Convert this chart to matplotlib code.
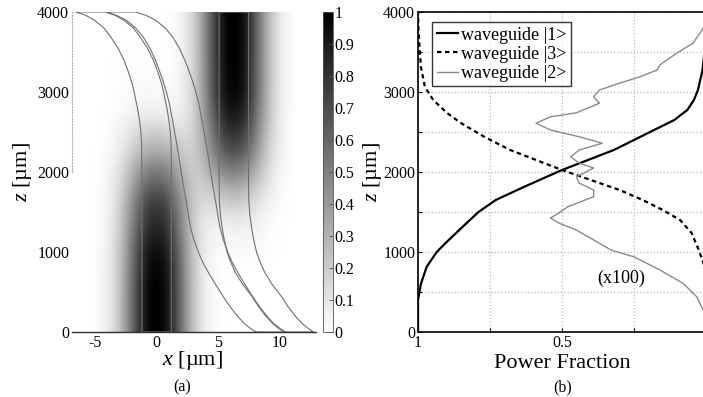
import matplotlib
matplotlib.use("Agg")
import matplotlib.pyplot as plt
import numpy as np

plt.rcParams['font.family'] = ['Liberation Serif', 'DejaVu Serif']
plt.rcParams['mathtext.fontset'] = 'custom'
plt.rcParams['mathtext.rm'] = 'Liberation Serif'
plt.rcParams['mathtext.it'] = 'Liberation Serif:italic'
plt.rcParams['axes.unicode_minus'] = False

# ---------------------------------------------------------------------------
# Data

# panel (b): power fraction in each waveguide versus z [um]
z_p1 = [0, 400, 600, 815, 1000, 1110, 1315, 1500, 1650, 1817, 2025, 2150, 2275, 2490,
        2650, 2775, 2900, 3025, 3275, 3525, 3800, 4000]
p1 = [1.0, 1.0, 0.99, 0.97, 0.935, 0.905, 0.845, 0.79, 0.73, 0.63, 0.50, 0.41, 0.32,
      0.20, 0.11, 0.065, 0.042, 0.028, 0.012, 0.005, 0.001, 0.0]

z_p3 = [0, 300, 810, 1025, 1237, 1400, 1525, 1650, 1775, 1900, 2025, 2150, 2275,
        2440, 2610, 2740, 2900, 3065, 3315, 3735, 4000]
p3 = [0.0, 0.0, 0.004, 0.025, 0.05, 0.09, 0.15, 0.22, 0.30, 0.40, 0.50, 0.59, 0.68,
      0.77, 0.85, 0.90, 0.947, 0.976, 0.99, 0.998, 1.0]

# waveguide |2> shown x100
z_p2 = [150, 275, 440, 610, 775, 940, 1025, 1150, 1275, 1360, 1425, 1490, 1565, 1650,
        1690, 1775, 1860, 1940, 2050, 2110, 2190, 2275, 2360, 2440, 2525, 2610, 2690,
        2740, 2800, 2860, 2940, 3025, 3110, 3190, 3275, 3340, 3490, 3610, 3690, 3775,
        3850]
p2 = [0.0, 0.01, 0.032, 0.08, 0.16, 0.25, 0.33, 0.39, 0.45, 0.51, 0.54, 0.51, 0.48,
      0.42, 0.39, 0.39, 0.44, 0.45, 0.39, 0.44, 0.47, 0.44, 0.36, 0.44, 0.54, 0.59,
      0.54, 0.45, 0.41, 0.37, 0.39, 0.37, 0.30, 0.23, 0.17, 0.16, 0.10, 0.045, 0.03,
      0.014, 0.0]

# panel (a): waveguide centre positions x [um] versus z [um]
z_c1 = [0, 2000, 2200, 2360, 2530, 2690, 2800, 2900, 3000, 3110, 3250, 3400, 3550,
        3690, 3800, 3900, 3960, 4000]
c1 = [0.0, 0.0, -0.005, -0.02, -0.1, -0.24, -0.36, -0.5, -0.63, -0.8, -1.1, -1.47,
      -1.95, -2.55, -3.1, -3.9, -4.6, -5.4]

z_c2 = [0, 40, 100, 180, 275, 380, 500, 620, 750, 875, 1000, 1150, 1300, 1450, 1600,
        1800, 2000, 2150, 2300, 2500, 2700, 2850, 3000, 3150, 3300, 3400, 3550, 3690,
        3800, 3900, 3960, 4000]
c2 = [9.3, 8.9, 8.4, 7.9, 7.4, 6.9, 6.4, 5.9, 5.4, 4.95, 4.6, 4.25, 3.98, 3.8, 3.65,
      3.42, 3.2, 3.05, 2.9, 2.67, 2.43, 2.25, 2.0, 1.7, 1.35, 1.1, 0.65, 0.1, -0.5,
      -1.3, -2.1, -2.9]

z_c3 = [0, 40, 100, 200, 310, 440, 600, 750, 890, 1000, 1100, 1200, 1310, 1470, 1640,
        1800, 2000, 4000]
c3 = [11.6, 11.2, 10.7, 10.1, 9.55, 9.0, 8.2, 7.6, 7.2, 6.95, 6.8, 6.66, 6.54, 6.4,
      6.32, 6.305, 6.3, 6.3]

half_width = 1.2  # waveguide core half width [um]

# ---------------------------------------------------------------------------

fig = plt.figure(figsize=(7.03, 3.97), dpi=100)
W, H = 703.0, 397.0


def box(x0, y0, x1, y1):
    return [x0 / W, 1 - y1 / H, (x1 - x0) / W, (y1 - y0) / H]


# ---- panel (a): intensity map -------------------------------------------
ax1 = fig.add_axes(box(72, 12, 316, 332))

xg = np.linspace(-5.0, 11.3, 330)
zg = np.linspace(0, 4000, 320)
X, Z = np.meshgrid(xg, zg)


def mode(u):
    return np.exp(-(np.abs(u) / 2.6) ** 2.2)


P1 = np.interp(zg, z_p1, p1)[:, None]
P3 = np.interp(zg, z_p3, p3)[:, None]
C1 = np.interp(zg, z_c1, c1)[:, None]
C3 = np.interp(zg, z_c3, c3)[:, None]
field = P1 * mode(X - C1) + P3 * mode(X - C3)

im = ax1.imshow(field, extent=[-5.0, 11.3, 0, 4000], origin='lower', aspect='auto',
                cmap='gray_r', vmin=0, vmax=1, interpolation='bilinear')

# waveguide outlines
for zc, cc in [(z_c1, c1), (z_c2, c2), (z_c3, c3)]:
    zc = np.array(zc, dtype=float)
    cc = np.array(cc, dtype=float)
    xs = np.concatenate([cc - half_width, (cc + half_width)[::-1], [cc[0] - half_width]])
    zs = np.concatenate([zc, zc[::-1], [zc[0]]])
    ax1.plot(xs, zs, color='#707070', lw=0.8)

ax1.set_xlim(-6.9, 13.0)
ax1.set_ylim(0, 4000)
ax1.set_xticks([-5, 0, 5, 10])
ax1.set_yticks([0, 1000, 2000, 3000, 4000])
ax1.tick_params(labelsize=11.5, direction='in', length=0, pad=2)
for s in ['top', 'right']:
    ax1.spines[s].set_visible(False)
ax1.spines['left'].set_linestyle(':')
ax1.spines['left'].set_color('#b0b0b0')
ax1.spines['left'].set_bounds(2000, 4000)
ax1.spines['bottom'].set_color('#303030')
ax1.spines['bottom'].set_linewidth(1.0)

cax = fig.add_axes(box(323, 12, 333, 332))
cb = fig.colorbar(im, cax=cax, ticks=np.arange(0, 1.01, 0.1), format='%g')
cb.outline.set_linewidth(0.6)
cb.outline.set_edgecolor('#505050')
cax.tick_params(labelsize=11.5, direction='in', length=3, width=0.6, pad=1,
                color='#505050')

fig.text(22 / W, 1 - 172 / H, r'$z$ [µm]', rotation=90, ha='center', va='center',
         fontsize=16)
fig.text(192 / W, 1 - 361 / H, r'$x$ [µm]', ha='center', va='center', fontsize=16)
fig.text(182 / W, 1 - 387 / H, '(a)', ha='center', va='center', fontsize=11.5)

# ---- panel (b): power fractions -----------------------------------------
ax2 = fig.add_axes(box(418, 12, 706, 332))
ax2.plot(p1, z_p1, color='black', lw=1.6, label='waveguide |1>')
ax2.plot(p3, z_p3, color='black', lw=1.6, ls=(0, (2.0, 1.6)), label='waveguide |3>')
ax2.plot(p2, z_p2, color='#8a8a8a', lw=1.0, label='waveguide |2>')

ax2.set_xlim(1, 0)
ax2.set_ylim(0, 4000)
ax2.set_xticks([1, 0.75, 0.5, 0.25, 0])
ax2.set_xticklabels(['1', '', '0.5', '', ''])
ax2.set_yticks(np.arange(0, 4001, 500))
ax2.set_yticklabels(['0', '', '1000', '', '2000', '', '3000', '', '4000'])
ax2.grid(True, ls=':', color='#b8b8b8', lw=0.9)
ax2.tick_params(labelsize=11.5, direction='in', length=3, pad=2)
for s in ax2.spines.values():
    s.set_linewidth(1.2)

ax2.text(0.295, 675, '(x100)', ha='center', va='center', fontsize=13)

leg = ax2.legend(loc='upper left', bbox_to_anchor=(432 / W, 1 - 22 / H),
                 bbox_transform=fig.transFigure, fontsize=13, frameon=True,
                 fancybox=False, borderaxespad=0, handlelength=1.2,
                 handletextpad=0.15, labelspacing=0.12, borderpad=0.25)
leg.get_frame().set_edgecolor('black')
leg.get_frame().set_linewidth(1.0)

fig.text(372 / W, 1 - 172 / H, r'$z$ [µm]', rotation=90, ha='center', va='center',
         fontsize=16)
fig.text(562 / W, 1 - 363 / H, 'Power Fraction', ha='center', va='center', fontsize=16)
fig.text(563 / W, 1 - 387 / H, '(b)', ha='center', va='center', fontsize=11.5)

fig.savefig('out.png', dpi=100)
